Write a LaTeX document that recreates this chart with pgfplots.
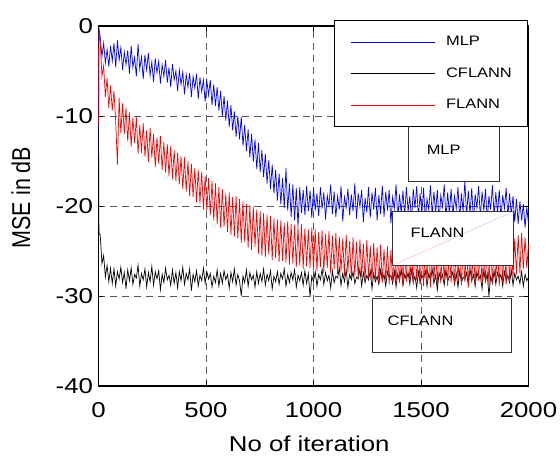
\documentclass[border=0pt]{standalone}
\usepackage{fontspec}
\setmainfont{Liberation Sans}[FakeStretch=1.2]
\newfontfamily\plainfont{Liberation Sans}
\usepackage{pgfplots}
\usepackage{pgfplotstable}
\pgfplotsset{compat=1.18}

% iteration, MLP, CFLANN, FLANN (MSE in dB)
\pgfplotstableread{
x mlp cf fl
0 -15.0 -9.5 -11.0
2 -0.2 -23.0 -0.5
8 -1.2 -23.2 -1.8
16 -3.4 -26.4 -5.6
24 -1.9 -25.5 -4.4
32 -4.1 -27.9 -7.9
40 -2.6 -26.6 -5.8
48 -4.5 -28.4 -9.1
56 -2.2 -26.9 -6.6
64 -3.9 -28.6 -9.4
72 -1.9 -27.0 -7.2
80 -4.6 -28.9 -10.6
88 -1.6 -27.3 -15.4
96 -3.8 -28.1 -8.0
104 -2.4 -26.8 -11.9
112 -4.9 -28.5 -8.6
120 -2.9 -27.4 -12.0
128 -4.3 -29.2 -9.1
136 -2.7 -27.1 -12.8
144 -5.3 -28.3 -9.6
152 -2.2 -26.9 -13.4
160 -4.6 -28.7 -10.2
168 -3.5 -27.6 -13.0
176 -5.6 -28.0 -10.1
184 -2.0 -26.6 -14.2
192 -4.8 -28.9 -11.0
200 -3.4 -27.5 -14.1
208 -5.9 -28.2 -10.8
216 -3.2 -27.0 -14.5
224 -4.9 -29.0 -11.6
232 -3.0 -27.4 -15.1
240 -5.5 -28.4 -11.3
248 -4.0 -26.7 -14.6
256 -6.2 -28.8 -12.0
264 -3.6 -27.3 -15.7
272 -5.2 -28.1 -12.4
280 -3.9 -27.2 -15.3
288 -6.4 -29.3 -12.2
296 -4.3 -27.6 -16.0
304 -5.6 -28.5 -12.9
312 -3.8 -26.9 -16.3
320 -6.3 -28.2 -13.1
328 -4.6 -27.7 -16.7
336 -6.8 -28.8 -13.3
344 -4.2 -27.1 -17.0
352 -6.0 -28.6 -13.8
360 -5.0 -27.4 -17.2
368 -7.2 -29.1 -14.1
376 -4.9 -27.3 -17.6
384 -6.5 -28.3 -14.5
392 -5.1 -26.8 -18.1
400 -7.6 -28.7 -14.6
408 -5.4 -27.5 -18.4
416 -6.8 -28.2 -15.0
424 -5.2 -27.0 -18.9
432 -7.9 -29.4 -15.3
440 -5.6 -27.6 -19.0
448 -6.9 -28.4 -15.8
456 -5.3 -27.2 -19.6
464 -8.1 -28.9 -16.0
472 -5.7 -27.7 -19.7
480 -7.3 -28.3 -16.2
488 -6.0 -26.9 -20.4
496 -8.4 -28.6 -16.7
504 -6.1 -27.3 -20.5
512 -7.7 -28.1 -16.9
520 -6.0 -27.5 -21.0
528 -8.8 -29.0 -17.2
536 -6.5 -27.8 -21.6
544 -8.9 -28.5 -17.5
552 -6.8 -27.1 -22.0
560 -9.4 -28.9 -17.9
568 -7.2 -27.5 -22.4
576 -10.0 -28.6 -18.1
584 -7.8 -27.2 -22.3
592 -10.5 -28.2 -18.6
600 -8.3 -27.6 -22.9
608 -11.2 -29.1 -18.5
616 -8.8 -27.4 -23.2
624 -11.6 -28.4 -19.0
632 -9.5 -27.0 -23.4
640 -12.3 -28.8 -18.9
648 -10.0 -27.6 -23.6
656 -12.6 -28.3 -19.2
664 -10.1 -30.0 -24.1
672 -13.3 -27.8 -19.5
680 -11.0 -28.5 -24.0
688 -13.9 -27.1 -19.8
696 -11.5 -28.9 -24.6
704 -14.6 -27.4 -19.9
712 -12.0 -28.2 -24.9
720 -15.1 -27.7 -20.1
728 -12.6 -29.0 -24.5
736 -15.9 -27.3 -20.4
744 -13.0 -28.6 -25.3
752 -16.2 -27.5 -20.6
760 -13.8 -28.4 -25.5
768 -16.8 -27.0 -20.8
776 -14.2 -28.8 -25.7
784 -17.5 -27.6 -21.0
792 -14.9 -28.3 -25.4
800 -18.1 -27.2 -21.1
808 -15.4 -29.2 -26.0
816 -18.6 -27.8 -21.4
824 -16.0 -28.4 -25.8
832 -19.4 -27.3 -21.5
840 -16.4 -28.7 -26.2
848 -19.8 -27.5 -21.6
856 -16.9 -28.1 -26.1
864 -20.2 -27.0 -21.9
872 -15.8 -28.9 -26.3
880 -20.5 -27.6 -21.7
888 -17.5 -28.5 -26.5
896 -21.2 -27.4 -22.0
904 -17.6 -28.2 -26.4
912 -21.6 -27.1 -22.1
920 -18.0 -29.0 -26.8
928 -22.3 -27.7 -22.3
936 -17.9 -28.3 -26.6
944 -20.8 -27.4 -22.0
952 -18.2 -28.8 -27.0
960 -21.0 -27.2 -22.5
968 -17.8 -28.6 -26.7
976 -20.6 -27.5 -22.6
984 -18.3 -30.1 -26.9
992 -21.3 -27.8 -22.4
1000 -18.0 -28.4 -27.1
1008 -20.5 -27.3 -22.6
1016 -18.6 -28.9 -27.2
1024 -21.1 -27.6 -22.9
1032 -17.9 -28.2 -26.8
1040 -20.3 -27.0 -22.7
1048 -18.5 -28.7 -27.4
1056 -21.5 -27.4 -23.1
1064 -18.8 -28.3 -26.9
1072 -20.0 -27.7 -22.8
1080 -17.6 -29.1 -27.5
1088 -20.9 -27.2 -23.3
1096 -18.4 -28.5 -27.0
1104 -21.2 -27.8 -23.0
1112 -18.9 -28.0 -27.6
1120 -20.4 -26.9 -23.4
1128 -17.8 -28.8 -27.3
1136 -21.7 -27.5 -23.6
1144 -19.0 -28.4 -27.8
1152 -20.2 -27.1 -23.2
1160 -18.1 -29.0 -27.4
1168 -21.0 -27.6 -23.9
1176 -18.7 -28.2 -28.0
1184 -20.6 -27.3 -23.5
1192 -17.5 -28.6 -27.7
1200 -21.4 -27.9 -24.0
1208 -18.6 -28.1 -28.1
1216 -20.1 -27.0 -23.7
1224 -18.2 -28.9 -27.9
1232 -21.8 -27.4 -24.2
1240 -19.1 -28.5 -28.3
1248 -20.7 -27.7 -23.8
1256 -17.9 -28.2 -28.0
1264 -21.3 -27.2 -24.4
1272 -18.5 -29.2 -28.4
1280 -20.4 -27.5 -24.1
1288 -18.0 -28.4 -28.2
1296 -21.6 -27.8 -24.6
1304 -18.8 -28.7 -28.6
1312 -20.9 -27.1 -24.3
1320 -17.7 -28.3 -28.5
1328 -21.2 -27.6 -24.8
1336 -18.4 -28.9 -28.3
1344 -20.5 -27.3 -24.5
1352 -18.2 -28.0 -28.7
1360 -21.9 -27.7 -24.9
1368 -19.0 -28.6 -28.4
1376 -20.3 -27.2 -24.6
1384 -17.6 -29.0 -28.8
1392 -21.5 -27.5 -25.0
1400 -18.7 -28.3 -28.5
1408 -20.8 -27.0 -24.2
1416 -18.3 -28.8 -28.9
1424 -21.1 -27.6 -24.7
1432 -17.9 -28.2 -28.4
1440 -20.6 -27.4 -24.1
1448 -18.9 -28.7 -28.6
1456 -21.7 -27.1 -24.8
1464 -18.1 -28.4 -28.8
1472 -20.2 -27.8 -24.4
1480 -17.8 -29.1 -28.3
1488 -21.3 -27.3 -24.9
1496 -18.6 -28.5 -28.7
1504 -20.9 -27.7 -24.3
1512 -18.0 -28.1 -28.9
1520 -21.6 -27.2 -24.6
1528 -19.2 -28.9 -28.5
1536 -20.4 -27.5 -24.2
1544 -17.7 -28.3 -29.0
1552 -21.0 -27.0 -24.7
1560 -18.4 -28.6 -28.4
1568 -20.7 -27.7 -24.5
1576 -18.2 -29.3 -28.8
1584 -21.8 -27.4 -24.0
1592 -18.8 -28.2 -28.6
1600 -20.1 -27.6 -24.8
1608 -17.6 -28.8 -28.2
1616 -21.4 -27.1 -24.4
1624 -18.5 -28.4 -28.9
1632 -20.8 -27.8 -24.6
1640 -18.1 -28.0 -28.5
1648 -21.2 -27.3 -24.1
1656 -18.9 -28.7 -28.7
1664 -20.3 -27.5 -24.9
1672 -17.9 -29.0 -28.3
1680 -21.5 -27.2 -24.3
1688 -18.6 -28.5 -28.8
1696 -20.6 -27.9 -24.7
1704 -17.2 -28.1 -28.4
1712 -21.1 -27.4 -24.2
1720 -18.3 -28.8 -29.0
1728 -20.9 -27.0 -24.8
1736 -18.0 -28.3 -28.5
1744 -21.7 -27.6 -24.4
1752 -18.7 -28.9 -28.9
1760 -20.2 -27.3 -24.6
1768 -17.8 -28.2 -28.3
1776 -21.3 -27.7 -24.1
1784 -18.4 -29.2 -28.7
1792 -20.5 -27.1 -24.9
1800 -18.1 -28.4 -28.4
1808 -21.6 -27.5 -24.5
1816 -18.9 -30.0 -28.8
1824 -20.4 -27.8 -24.3
1832 -17.7 -28.6 -28.6
1840 -21.0 -27.2 -24.7
1848 -18.5 -28.7 -28.2
1856 -20.8 -27.4 -24.4
1864 -18.2 -28.1 -28.9
1872 -21.4 -27.6 -24.6
1880 -18.8 -28.9 -28.5
1888 -20.3 -27.3 -24.2
1896 -18.0 -28.3 -28.7
1904 -21.2 -27.7 -24.0
1912 -18.6 -28.5 -28.4
1920 -21.0 -27.1 -23.8
1928 -18.9 -28.8 -28.0
1936 -21.8 -27.5 -23.6
1944 -19.2 -28.2 -27.6
1952 -22.0 -27.8 -23.2
1960 -19.5 -28.6 -27.5
1968 -21.6 -27.3 -23.0
1976 -19.8 -28.9 -27.0
1984 -22.4 -27.6 -23.5
1992 -20.1 -28.3 -26.9
2000 -22.0 -27.9 -24.2
}\msedata

\begin{document}
\begin{tikzpicture}
\path[use as bounding box] (-98.5pt,-73pt) rectangle (461.5pt,386pt);
\begin{axis}[
    at={(0pt,0pt)}, anchor=south west,
    width=430pt, height=360pt, scale only axis,
    xmin=0, xmax=2000, ymin=-40, ymax=0,
    xtick={0,500,1000,1500,2000},
    ytick={-40,-30,-20,-10,0},
    /pgf/number format/assume math mode=true,
    /pgf/number format/set thousands separator={},
    tick align=inside, major tick length=5pt,
    axis line style={line width=1.3pt},
    every tick/.style={black, line width=0.8pt},
    grid=major,
    major grid style={dash pattern=on 7pt off 5pt, line width=0.9pt, black!65},
    tick label style={font=\fontsize{21.5}{24}\selectfont},
    xticklabel style={anchor=base, yshift=-31pt},
    yticklabel style={anchor=east, xshift=-2pt},
    xlabel={No of iteration},
    xlabel style={font=\fontsize{21.5}{24}\selectfont, at={(axis description cs:0.49,0)}, anchor=base, yshift=-65pt},
    ylabel={\scalebox{1}[1.2]{\plainfont MSE in dB}},
    ylabel style={font=\fontsize{21.5}{24}\selectfont, at={(axis description cs:-0.1802,0.5236)}, anchor=center},
    legend cell align=left,
    legend style={at={(rel axis cs:0.547,1.017)}, anchor=north west,
        draw=black, line width=1.2pt, fill=white,
        font=\fontsize{13.7}{15}\selectfont,
        inner xsep=16pt, inner ysep=16pt, row sep=20.5pt,
        nodes={inner sep=0pt},
        /tikz/every odd column/.append style={column sep=11pt}},
    legend image code/.code={\draw[#1, line width=0.8pt] (0pt,0pt) -- (84pt,0pt);},
]
\addplot[blue, line width=0.7pt] table[x=x, y=mlp] {\msedata};
\addlegendentry{MLP}
\addplot[black, line width=0.7pt] table[x=x, y=cf] {\msedata};
\addlegendentry{CFLANN}
\addplot[red, line width=0.7pt] table[x=x, y=fl] {\msedata};
\addlegendentry{FLANN}

\draw[black!80, line width=0.7pt, fill=white] (axis cs:1442,-11.2) rectangle (axis cs:1865,-17.3);
\node[anchor=west, inner sep=0pt, font=\fontsize{13.7}{15}\selectfont] at (axis cs:1526,-13.7) {MLP};
\draw[black!80, line width=0.7pt, fill=white] (axis cs:1367,-20.6) rectangle (axis cs:1930,-26.6);
\draw[red!30, line width=0.4pt] (axis cs:1367,-26.6) -- (axis cs:1650,-23.6);
\draw[blue!25, line width=0.4pt] (axis cs:1650,-23.6) -- (axis cs:1930,-20.6);
\node[anchor=west, inner sep=0pt, font=\fontsize{13.7}{15}\selectfont] at (axis cs:1451,-23.0) {FLANN};
\draw[black!80, line width=0.7pt] (axis cs:1274,-30.3) rectangle (axis cs:1921,-36.3);
\node[anchor=west, inner sep=0pt, font=\fontsize{13.7}{15}\selectfont] at (axis cs:1344,-32.8) {CFLANN};
\end{axis}
\end{tikzpicture}
\end{document}
